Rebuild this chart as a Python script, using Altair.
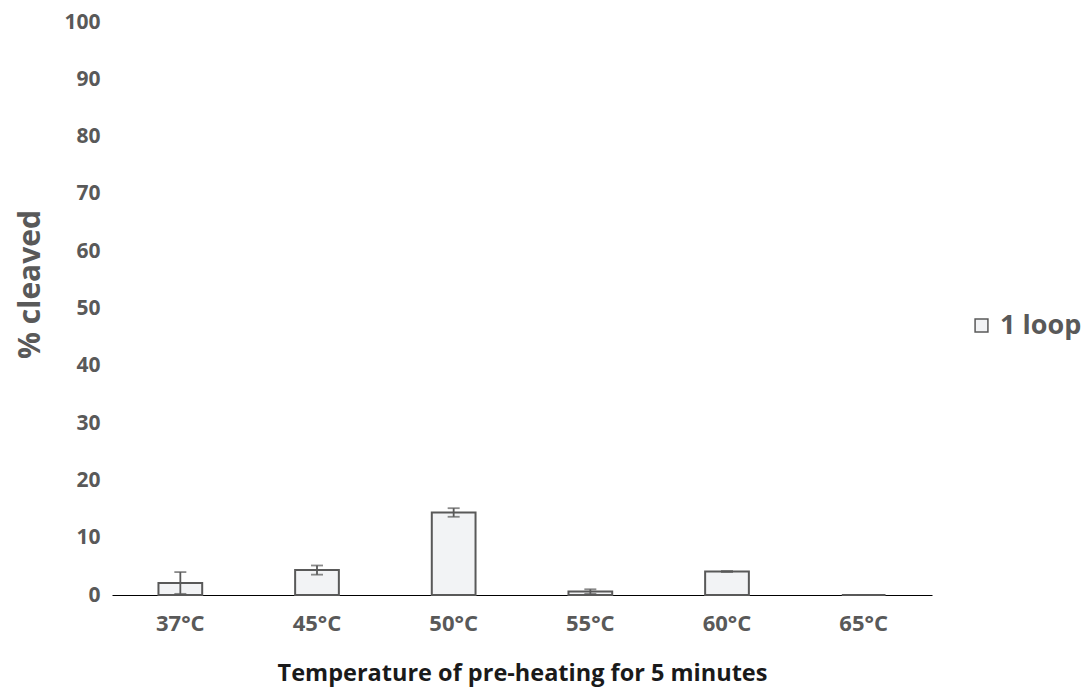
import altair as alt
import pandas as pd

temps = ["37°C", "45°C", "50°C", "55°C", "60°C", "65°C"]
values = [2.1, 4.35, 14.4, 0.6, 4.1, 0.0]
errors = [1.9, 0.8, 0.75, 0.4, 0.1, 0.0]
series = ["1 loop"] * 6

df = pd.DataFrame({"temp": temps, "value": values, "err": errors, "series": series})
df["lo"] = (df["value"] - df["err"]).clip(lower=0)
df["hi"] = df["value"] + df["err"]

FONT = "Open Sans"
GRAY = "#595959"

x = alt.X("temp:N", sort=temps,
          scale=alt.Scale(paddingInner=0.68, paddingOuter=0.34),
          axis=alt.Axis(title="Temperature of pre-heating for 5 minutes", labelAngle=0,
                        labelFont=FONT, labelFontSize=22, labelFontWeight="bold", labelColor=GRAY,
                        labelPadding=18, ticks=False, domainColor="#000000", domainWidth=1.2,
                        titleFont=FONT, titleFontSize=23.5, titleFontWeight="bold", titleColor="#1a1a1a",
                        titlePadding=27))
y_scale = alt.Scale(domain=[0, 100], nice=False)

bars = alt.Chart(df).mark_bar(stroke=GRAY, strokeWidth=2).encode(
    x=x,
    y=alt.Y("value:Q", scale=y_scale,
            axis=alt.Axis(title="% cleaved", values=list(range(0, 101, 10)), grid=False, domain=False,
                          ticks=False, labelFont=FONT, labelFontSize=21, labelFontWeight="bold",
                          labelColor=GRAY, labelPadding=12,
                          titleFont=FONT, titleFontSize=30, titleFontWeight="bold", titleColor=GRAY,
                          titleAngle=270, titleX=-82, titleY=262, titleAlign="center",
                          titleBaseline="middle")),
    color=alt.Color("series:N", scale=alt.Scale(range=["#f2f3f5"]),
                    legend=alt.Legend(title=None, orient="none", legendX=856, legendY=290,
                                      symbolType="square", symbolSize=165, symbolStrokeColor=GRAY,
                                      symbolStrokeWidth=1.5, labelFont=FONT, labelFontSize=27,
                                      labelFontWeight="bold", labelColor=GRAY, labelOffset=5)),
)

rules = alt.Chart(df).mark_rule(color=GRAY, strokeWidth=1.8).encode(
    x=alt.X("temp:N", sort=temps), y=alt.Y("lo:Q", scale=y_scale), y2="hi:Q")
caps_hi = alt.Chart(df).mark_tick(color=GRAY, size=12, thickness=1.8).encode(
    x=alt.X("temp:N", sort=temps), y=alt.Y("hi:Q", scale=y_scale))
caps_lo = alt.Chart(df).mark_tick(color=GRAY, size=12, thickness=1.8).encode(
    x=alt.X("temp:N", sort=temps), y=alt.Y("lo:Q", scale=y_scale))

chart = alt.layer(bars, rules, caps_hi, caps_lo).properties(
    width=820, height=573,
    background="white",
    autosize=alt.AutoSizeParams(type="none"),
    padding={"left": 104, "top": 14, "right": 151, "bottom": 95},
).configure_view(strokeWidth=0, stroke=None)

chart.save("out.html", embed_options={"renderer": "svg", "actions": False})
